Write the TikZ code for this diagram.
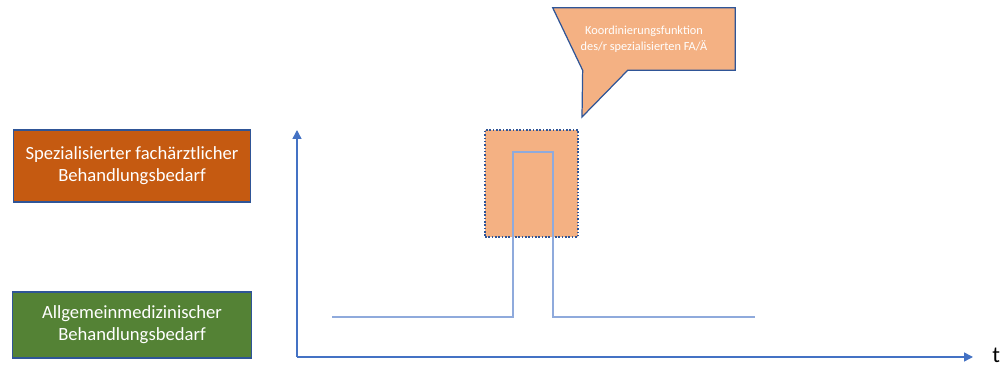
\documentclass[tikz,border=0pt]{standalone}
\usepackage{fontspec}
\setmainfont{Carlito}
\usetikzlibrary{calc,backgrounds,arrows.meta}

\definecolor{axisblue}{HTML}{4472C4}
\definecolor{lineblue}{HTML}{8FAADC}
\definecolor{edgeblue}{HTML}{2F5597}
\definecolor{specorange}{HTML}{C55A11}
\definecolor{genGreen}{HTML}{548235}
\definecolor{lightorange}{HTML}{F4B183}

\tikzset{
  needbox/.style={draw=edgeblue, line width=0.7pt, text=white, align=center,
    font=\fontsize{10.6}{12.6}\selectfont, inner sep=0pt},
  bubbletext/.style={text=white, align=center, font=\fontsize{7}{8.8}\selectfont,
    minimum width=3.64cm, minimum height=1.24cm, inner sep=0pt}
}

\begin{document}
\begin{tikzpicture}[x=0.02cm, y=-0.02cm, >={Triangle[length=5pt, width=5pt]}]

\useasboundingbox (0,0) rectangle (1008,367);

% Need levels
\node[needbox, fill=specorange, minimum width=4.74cm, minimum height=1.44cm]
  (specbox) at (132,166) {Spezialisierter fachärztlicher\\Behandlungsbedarf};
\node[needbox, fill=genGreen, minimum width=4.78cm, minimum height=1.32cm]
  (genbox) at (132,325) {Allgemeinmedizinischer\\Behandlungsbedarf};

% Coordination phase
\node[draw=edgeblue, densely dotted, line width=0.9pt, fill=lightorange,
  minimum width=1.86cm, minimum height=2.14cm, inner sep=0pt]
  (coordbox) at (531.5,183.5) {};

% Axes
\coordinate (origin) at (297,357);
\coordinate (ytop) at (297,130);
\coordinate (xend) at (973,357);
\draw[->, axisblue, line width=0.8pt] (origin) -- (ytop);
\draw[->, axisblue, line width=0.8pt] (origin) -- (xend);
\node[right, font=\fontsize{13}{15}\selectfont, inner sep=0pt] (tlabel) at (992,355) {t};

% Course of need
\coordinate (c0) at (332,317);
\coordinate (c1) at (513,317);
\coordinate (c2) at (513,152);
\coordinate (c3) at (553,152);
\coordinate (c4) at (553,317);
\coordinate (c5) at (755,317);
\draw[lineblue, line width=0.8pt] (c0) -- (c1) -- (c2) -- (c3) -- (c4) -- (c5);

% Speech bubble
\node[bubbletext] (callout) at (644,39) {Koordinierungsfunktion\\des/r spezialisierten FA/Ä};
\coordinate (tip) at (582,117);
\begin{pgfonlayer}{background}
\draw[draw=edgeblue, line width=0.7pt, fill=lightorange, line join=miter]
  (callout.north west) -- (callout.north east) -- (callout.south east)
  -- ($(callout.south west)+(75,0)$) -- (tip) -- ($(callout.south west)+(30,0)$)
  -- cycle;
\end{pgfonlayer}

\end{tikzpicture}
\end{document}
